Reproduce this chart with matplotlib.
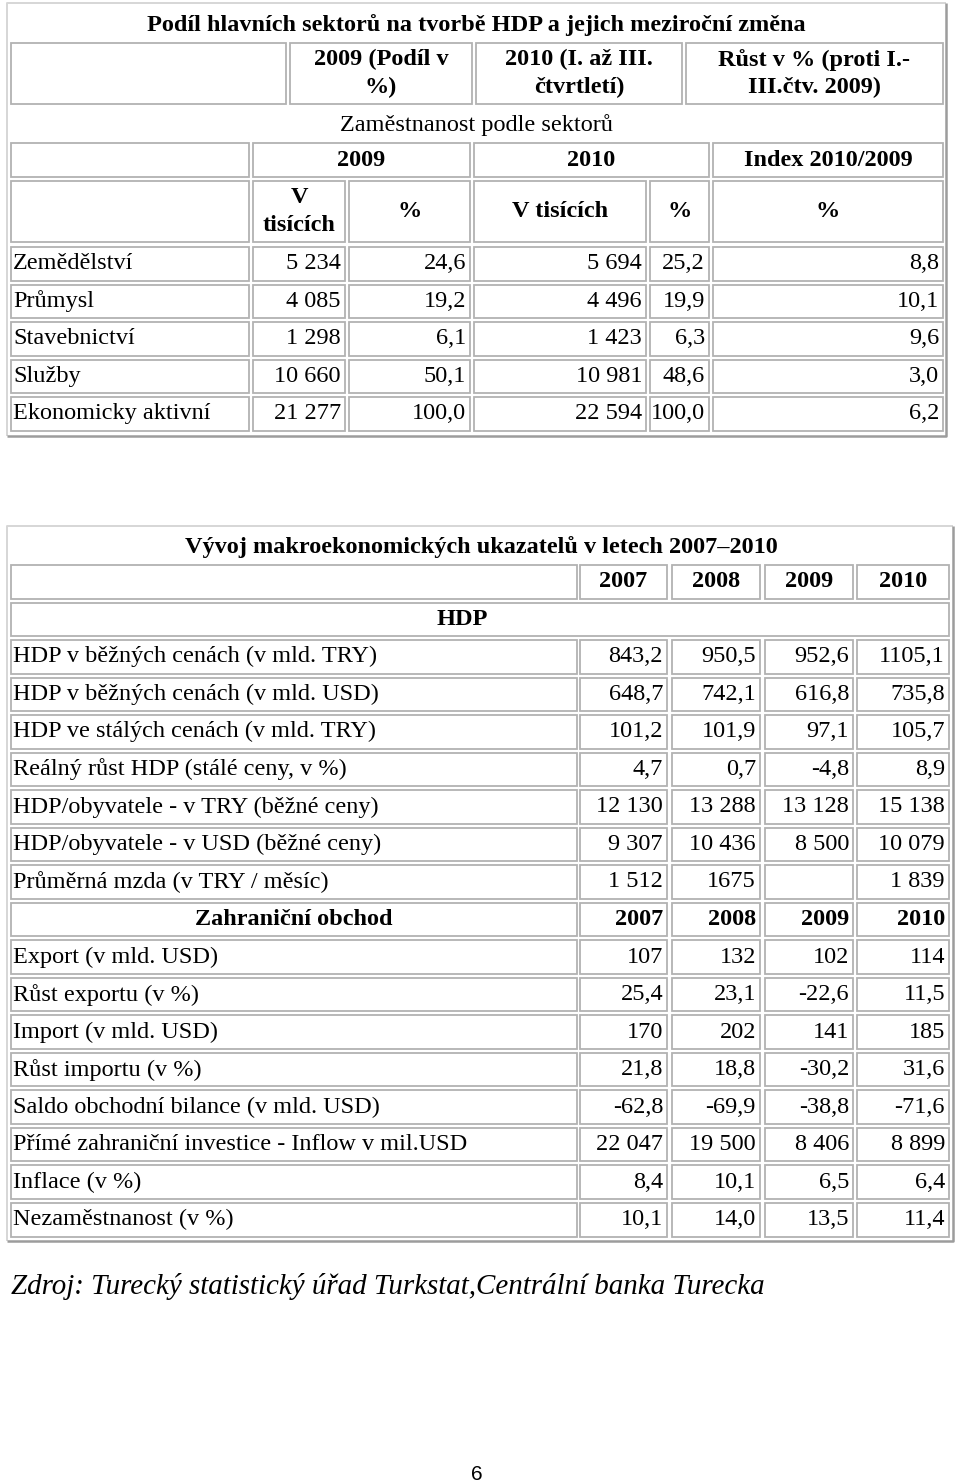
import matplotlib
matplotlib.use('Agg')
import matplotlib.pyplot as plt
from matplotlib.patches import Rectangle

FONT = 'Liberation Serif'
FS = 17.5

# ---------------- Table 1 data ----------------
t1_title = 'Podíl hlavních sektorů na tvorbě HDP a jejich meziroční změna'
t1_head1 = ['2009 (Podíl v\n%)', '2010 (I. až III.\nčtvrtletí)', 'Růst v % (proti I.-\nIII.čtv. 2009)']
t1_subtitle = 'Zaměstnanost podle sektorů'
t1_years = ['2009', '2010', 'Index 2010/2009']
t1_units = ['V\ntisících', '%', 'V tisících', '%', '%']
sectors = ['Zemědělství', 'Průmysl', 'Stavebnictví', 'Služby', 'Ekonomicky aktivní']
emp_2009 = ['5 234', '4 085', '1 298', '10 660', '21 277']
share_2009 = ['24,6', '19,2', '6,1', '50,1', '100,0']
emp_2010 = ['5 694', '4 496', '1 423', '10 981', '22 594']
share_2010 = ['25,2', '19,9', '6,3', '48,6', '100,0']
index_2010_2009 = ['8,8', '10,1', '9,6', '3,0', '6,2']

# ---------------- Table 2 data ----------------
t2_title = 'Vývoj makroekonomických ukazatelů v letech 2007–2010'
years = ['2007', '2008', '2009', '2010']
hdp_section = 'HDP'
hdp_labels = ['HDP v běžných cenách (v mld. TRY)',
              'HDP v běžných cenách (v mld. USD)',
              'HDP ve stálých cenách (v mld. TRY)',
              'Reálný růst HDP (stálé ceny, v %)',
              'HDP/obyvatele - v TRY (běžné ceny)',
              'HDP/obyvatele - v USD (běžné ceny)',
              'Průměrná mzda (v TRY / měsíc)']
hdp_values = [['843,2', '950,5', '952,6', '1105,1'],
              ['648,7', '742,1', '616,8', '735,8'],
              ['101,2', '101,9', '97,1', '105,7'],
              ['4,7', '0,7', '-4,8', '8,9'],
              ['12 130', '13 288', '13 128', '15 138'],
              ['9 307', '10 436', '8 500', '10 079'],
              ['1 512', '1675', '', '1 839']]
trade_section = 'Zahraniční obchod'
trade_labels = ['Export (v mld. USD)',
                'Růst exportu (v %)',
                'Import (v mld. USD)',
                'Růst importu (v %)',
                'Saldo obchodní bilance (v mld. USD)',
                'Přímé zahraniční investice - Inflow v mil.USD',
                'Inflace (v %)',
                'Nezaměstnanost (v %)']
trade_values = [['107', '132', '102', '114'],
                ['25,4', '23,1', '-22,6', '11,5'],
                ['170', '202', '141', '185'],
                ['21,8', '18,8', '-30,2', '31,6'],
                ['-62,8', '-69,9', '-38,8', '-71,6'],
                ['22 047', '19 500', '8 406', '8 899'],
                ['8,4', '10,1', '6,5', '6,4'],
                ['10,1', '14,0', '13,5', '11,4']]
source = 'Zdroj: Turecký statistický úřad Turkstat,Centrální banka Turecka'
page_no = '6'

# ---------------- drawing ----------------
fig = plt.figure(figsize=(9.6, 14.84), dpi=100)
ax = fig.add_axes([0, 0, 1, 1])
ax.set_xlim(0, 960)
ax.set_ylim(1484, 0)
ax.axis('off')

CELL_EDGE = '#b2b2b2'


def cell(x0, x1, y0, y1):
    ax.add_patch(Rectangle((x0, y0), x1 - x0, y1 - y0, facecolor='white',
                           edgecolor=CELL_EDGE, lw=1.3))


def outer(x0, x1, y0, y1):
    ax.plot([x0, x0, x1], [y1, y0, y0], color='#d6d6d6', lw=1.4, solid_capstyle='butt')
    ax.plot([x1, x1, x0], [y0, y1, y1], color='#9c9c9c', lw=1.8, solid_capstyle='butt')


def txt(x, y, s, ha='left', bold=False, size=FS, style='normal', family=FONT, ls=1.4):
    return ax.text(x, y, s, ha=ha, va='center', fontsize=size, family=family,
                   fontweight='bold' if bold else 'normal', fontstyle=style,
                   linespacing=ls, color='black')


PAD = 4

# ---- Table 1 ----
outer(7, 946, 3, 436)
txt(476, 25, t1_title, ha='center', bold=True)
# header row 1
h1 = [(11, 286), (290, 472), (476, 682), (686, 943)]
for (x0, x1) in h1:
    cell(x0, x1, 43, 104)
for (x0, x1), s in zip(h1[1:], t1_head1):
    txt((x0 + x1) / 2, 73.5, s, ha='center', bold=True)
txt(476, 125, t1_subtitle, ha='center')
# years row
h2 = [(11, 249), (253, 470), (474, 709), (713, 943)]
for (x0, x1) in h2:
    cell(x0, x1, 143, 177)
for (x0, x1), s in zip(h2[1:], t1_years):
    txt((x0 + x1) / 2, 160, s, ha='center', bold=True)
# units row + data rows
cols1 = [(11, 249), (253, 345), (349, 470), (474, 646), (650, 709), (713, 943)]
for (x0, x1) in cols1:
    cell(x0, x1, 181, 242)
for (x0, x1), s in zip(cols1[1:], t1_units):
    txt((x0 + x1) / 2, 211.5, s, ha='center', bold=True)

t1_cols = [emp_2009, share_2009, emp_2010, share_2010, index_2010_2009]
for i, lab in enumerate(sectors):
    y0 = 247 + 37.5 * i
    y1 = y0 + 33.5
    yc = (y0 + y1) / 2
    for (x0, x1) in cols1:
        cell(x0, x1, y0, y1)
    txt(cols1[0][0] + 2, yc, lab)
    for (x0, x1), col in zip(cols1[1:], t1_cols):
        txt(x1 - PAD, yc, col[i], ha='right')

# ---- Table 2 ----
outer(7, 953, 526, 1241)
txt(481, 547, t2_title, ha='center', bold=True)
cols2 = [(11, 577), (580, 667), (672, 760), (765, 853), (857, 949)]
P2 = 37.53
H2 = 33.5


def row_y(k):
    y0 = 565 + P2 * k
    return y0, y0 + H2, y0 + H2 / 2


# years header
y0, y1, yc = row_y(0)
for (x0, x1) in cols2:
    cell(x0, x1, y0, y1)
for (x0, x1), s in zip(cols2[1:], years):
    txt((x0 + x1) / 2, yc, s, ha='center', bold=True)
# HDP section row
y0, y1, yc = row_y(1)
cell(11, 949, y0, y1)
txt(462, yc, hdp_section, ha='center', bold=True)

k = 2
for lab, vals in zip(hdp_labels, hdp_values):
    y0, y1, yc = row_y(k)
    for (x0, x1) in cols2:
        cell(x0, x1, y0, y1)
    txt(13, yc, lab)
    for (x0, x1), v in zip(cols2[1:], vals):
        txt(x1 - PAD, yc, v, ha='right')
    k += 1

# trade section header
y0, y1, yc = row_y(k)
for (x0, x1) in cols2:
    cell(x0, x1, y0, y1)
txt((cols2[0][0] + cols2[0][1]) / 2, yc, trade_section, ha='center', bold=True)
for (x0, x1), s in zip(cols2[1:], years):
    txt(x1 - PAD, yc, s, ha='right', bold=True)
k += 1

for lab, vals in zip(trade_labels, trade_values):
    y0, y1, yc = row_y(k)
    for (x0, x1) in cols2:
        cell(x0, x1, y0, y1)
    txt(13, yc, lab)
    for (x0, x1), v in zip(cols2[1:], vals):
        txt(x1 - PAD, yc, v, ha='right')
    k += 1

# ---- footer ----
src = txt(11, 1287, source, size=21, style='italic')
fig.canvas.draw()
bb = src.get_window_extent()
target = 765 - 11
src.set_fontsize(21 * target / bb.width)

txt(477, 1474, page_no, ha='center', size=15, family='Liberation Sans')

fig.savefig('out.png', dpi=100, facecolor='white')
